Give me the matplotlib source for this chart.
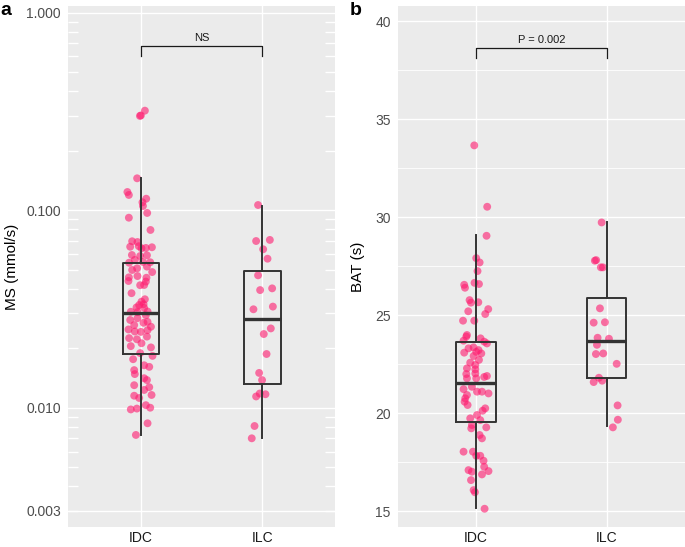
import matplotlib
matplotlib.use("Agg")
import matplotlib.pyplot as plt
import matplotlib.transforms as mtransforms
import numpy as np

plt.rcParams['font.family'] = ['Liberation Sans', 'DejaVu Sans']

groups = ["IDC", "ILC"]

# panel a: MS (mmol/s), jitter offset and value per point
ms_idc_dx = [0.0, 0.033, -0.008, -0.031, -0.111, -0.099, 0.044, 0.013, 0.017, 0.052, -0.099,
             0.079, -0.072, -0.028, -0.088, 0.005, 0.041, 0.091, -0.017, -0.074, -0.006, 0.050,
             -0.050, -0.097, 0.017, 0.077, -0.072, -0.031, 0.050, 0.093, -0.099, -0.028, 0.046,
             -0.102, 0.041, 0.027, -0.006, -0.077, 0.033, 0.005, -0.014, 0.022, -0.036, 0.027,
             -0.083, -0.028, 0.055, 0.041, -0.088, -0.028, 0.055, 0.022, 0.083, -0.055, -0.102,
             -0.050, 0.0, 0.055, -0.097, -0.033, 0.050, 0.005, -0.083, 0.083, -0.006, 0.096,
             -0.064, 0.027, 0.069, -0.055, -0.050, 0.027, 0.050, -0.055, 0.069, 0.027, 0.088,
             -0.055, -0.014, -0.083, -0.033, 0.041, 0.077, 0.055, -0.041]
ms_idc = [0.3017, 0.319, 0.300, 0.145, 0.1236, 0.1194, 0.1143, 0.1096, 0.1050, 0.0968, 0.0916,
          0.0794, 0.0696, 0.0690, 0.0653, 0.0641, 0.0644, 0.0649, 0.0657, 0.0593, 0.0586, 0.0591,
          0.0560, 0.0542, 0.0547, 0.0545, 0.0498, 0.0508, 0.0518, 0.0486, 0.0457, 0.0464, 0.0455,
          0.0438, 0.0435, 0.0418, 0.0417, 0.0380, 0.0354, 0.0344, 0.0331, 0.0334, 0.0322, 0.0320,
          0.0306, 0.0305, 0.0307, 0.0294, 0.0278, 0.0284, 0.0272, 0.0269, 0.0257, 0.0262, 0.0249,
          0.0243, 0.0242, 0.0247, 0.0225, 0.0222, 0.0229, 0.0212, 0.0205, 0.0202, 0.0189, 0.0183,
          0.0176, 0.0164, 0.0161, 0.0155, 0.0148, 0.0141, 0.0138, 0.0130, 0.0127, 0.0123, 0.0116,
          0.0115, 0.0112, 0.0098, 0.0099, 0.0103, 0.0100, 0.00834, 0.00728]
ms_ilc_dx = [-0.035, -0.051, 0.062, 0.007, 0.043, -0.035, -0.018, 0.081, -0.073, 0.087,
             0.070, 0.012, 0.035, -0.026, -0.002, -0.021, -0.051, 0.026, -0.064, -0.087]
ms_ilc = [0.1062, 0.0698, 0.0707, 0.0634, 0.0568, 0.0468, 0.0394, 0.0402, 0.0315, 0.0325,
          0.0252, 0.0236, 0.0187, 0.0150, 0.0138, 0.0118, 0.0114, 0.0117, 0.00808, 0.0070]

# box stats: whislo, q1, med, q3, whishi
ms_box = [[0.00727, 0.0186, 0.0301, 0.0538, 0.145],
          [0.0070, 0.01323, 0.0280, 0.0494, 0.1054]]

# panel b: BAT (s)
bat_idc_dx = [-0.013, 0.086, 0.081, 0.002, 0.028, 0.012, -0.011, 0.023, -0.090, -0.084, -0.049,
              -0.038, 0.018, -0.059, 0.094, 0.071, -0.099, -0.013, -0.069, -0.074, -0.095, 0.035,
              0.063, 0.084, -0.057, -0.090, -0.018, 0.020, 0.041, 0.002, -0.018, 0.023, -0.044,
              -0.005, -0.069, -0.005, -0.074, -0.005, 0.084, 0.063, 0.002, -0.069, -0.031, -0.095,
              0.046, 0.096, 0.008, -0.069, -0.082, -0.087, -0.064, 0.071, 0.051, 0.008, -0.044,
              0.033, -0.031, -0.036, 0.079, 0.028, 0.046, -0.095, -0.023, 0.002, 0.033, 0.058,
              0.063, -0.057, -0.031, 0.096, 0.046, -0.038, -0.018, -0.008, 0.066]
bat_idc = [33.66, 30.53, 29.05, 27.91, 27.69, 27.25, 26.65, 26.59, 26.55, 26.40, 25.77,
           25.64, 25.66, 25.20, 25.31, 25.06, 24.72, 24.72, 23.99, 23.91, 23.70, 23.82,
           23.65, 23.56, 23.31, 23.09, 23.36, 23.22, 23.05, 23.13, 22.92, 22.72, 22.58,
           22.46, 22.29, 22.24, 22.00, 22.03, 21.90, 21.85, 21.78, 21.78, 21.35, 21.23,
           21.10, 21.01, 21.10, 20.93, 20.76, 20.59, 20.42, 20.25, 20.13, 19.91, 19.74,
           19.65, 19.40, 19.23, 19.28, 18.89, 18.72, 18.04, 18.04, 17.83, 17.83, 17.58,
           17.27, 17.10, 17.02, 17.05, 16.88, 16.59, 16.08, 15.97, 15.13]
bat_ilc_dx = [-0.038, -0.090, -0.080, -0.044, -0.028, -0.051, -0.099, -0.013, -0.069, 0.018,
              -0.074, -0.082, -0.026, 0.077, -0.059, -0.099, -0.034, 0.084, 0.086, 0.048]
bat_ilc = [29.73, 27.78, 27.81, 27.44, 27.44, 25.35, 24.62, 24.64, 23.85, 23.80,
           23.49, 23.02, 23.05, 22.52, 21.81, 21.59, 21.66, 20.40, 19.67, 19.28]

bat_box = [[15.15, 19.56, 21.55, 23.64, 29.07],
           [19.34, 21.79, 23.69, 25.87, 29.77]]

panel_bg = "#EBEBEB"
pt_color = "#FF1A6E"
box_color = "#333333"

fig = plt.figure(figsize=(6.85, 5.47), dpi=100)
ax1 = fig.add_axes([0.0993, 0.0366, 0.390, 0.9525])
ax2 = fig.add_axes([0.5804, 0.0366, 0.4196, 0.9525])


def style(ax):
    ax.set_facecolor(panel_bg)
    for s in ax.spines.values():
        s.set_visible(False)
    ax.set_xlim(0.4, 2.6)
    ax.set_xticks([1, 2])
    ax.set_xticklabels(groups)
    ax.tick_params(axis='both', which='both', length=0, labelsize=10, colors="#4D4D4D")
    ax.tick_params(axis='x', pad=3, colors="#1A1A1A")
    ax.tick_params(axis='y', pad=5)
    ax.grid(True, which='major', color='white', lw=1.0)
    ax.set_axisbelow(True)


def draw(ax, dxs, vals, boxes):
    for i, (dx, v) in enumerate(zip(dxs, vals)):
        ax.scatter(np.array(dx) + i + 1, v, s=32, color=pt_color, alpha=0.6,
                   edgecolors='none', zorder=2)
    stats = [dict(whislo=b[0], q1=b[1], med=b[2], q3=b[3], whishi=b[4], fliers=[])
             for b in boxes]
    ax.bxp(stats, positions=[1, 2], widths=0.3, showfliers=False, showcaps=False,
           boxprops=dict(color=box_color, lw=1.4),
           whiskerprops=dict(color=box_color, lw=1.4),
           medianprops=dict(color=box_color, lw=2.4),
           manage_ticks=False, zorder=3)


def bracket(ax, y, tip, label):
    ax.plot([1, 1, 2, 2], [tip, y, y, tip], color='#1A1A1A', lw=0.9, zorder=3)
    ax.annotate(label, (1.5, y), xytext=(0, 2), textcoords='offset points',
                ha='center', va='bottom', fontsize=8, color='#1A1A1A')


# panel a
style(ax1)
ax1.set_yscale('log')
ax1.set_ylim(0.00249, 1.081)
ax1.set_yticks([0.003, 0.01, 0.1, 1.0])
ax1.set_yticklabels(["0.003", "0.010", "0.100", "1.000"])
ax1.yaxis.set_minor_locator(matplotlib.ticker.NullLocator())
draw(ax1, [ms_idc_dx, ms_ilc_dx], [ms_idc, ms_ilc], ms_box)
bracket(ax1, 0.681, 0.605, "NS")
ax1.set_ylabel("MS (mmol/s)", fontsize=11, color='black')
ax1.yaxis.set_label_coords(-0.183, 0.5)

# white log ticks along both edges
trans = mtransforms.blended_transform_factory(ax1.transAxes, ax1.transData)
for k in [-3, -2, -1]:
    for m in range(2, 10):
        v = m * 10.0 ** k
        if 0.00249 < v < 1.081:
            for x0, x1 in [(0, 0.037), (0.963, 1.0)]:
                ax1.plot([x0, x1], [v, v], color='white', lw=1.0, transform=trans,
                         zorder=1, solid_capstyle='butt')

# panel b
style(ax2)
ax2.set_ylim(14.2, 40.77)
ax2.set_yticks([15, 20, 25, 30, 35, 40])
ax2.set_yticks([17.5, 22.5, 27.5, 32.5, 37.5], minor=True)
ax2.grid(True, which='minor', axis='y', color='white', lw=0.6)
draw(ax2, [bat_idc_dx, bat_ilc_dx], [bat_idc, bat_ilc], bat_box)
bracket(ax2, 38.64, 38.10, "P = 0.002")
ax2.set_ylabel("BAT (s)", fontsize=11, color='black')
ax2.yaxis.set_label_coords(-0.113, 0.5)

fig.text(0.0, 0.9726, "a", fontsize=14, fontweight='bold', ha='left', va='baseline')
fig.text(0.511, 0.9726, "b", fontsize=14, fontweight='bold', ha='left', va='baseline')

fig.savefig("out.png", dpi=100)
